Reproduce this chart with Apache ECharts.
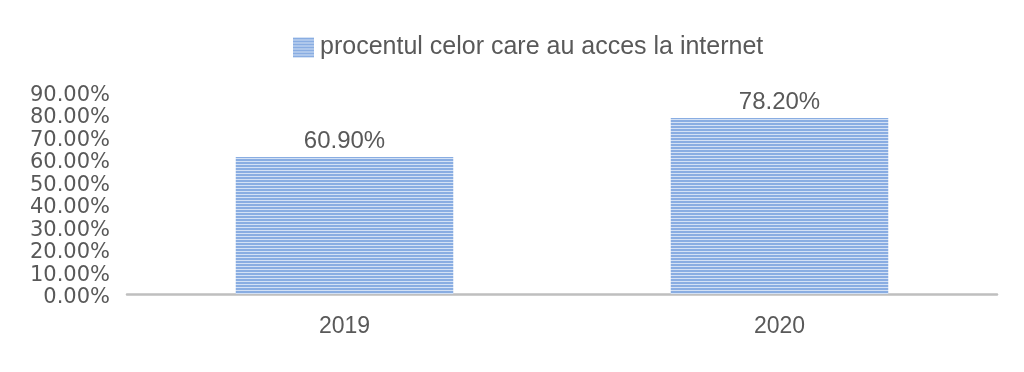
<!DOCTYPE html>
<html>
<head>
<meta charset="utf-8">
<script src="https://cdn.jsdelivr.net/npm/echarts@6/dist/echarts.min.js"></script>
<style>
html,body{margin:0;padding:0;background:#fff;}
#c{width:1024px;height:372px;}
</style>
</head>
<body>
<div id="c"></div>
<script>
const categories = ['2019', '2020'];
const seriesName = 'procentul celor care au acces la internet';
const values = [0.609, 0.782];
const yTicks = [0, 0.1, 0.2, 0.3, 0.4, 0.5, 0.6, 0.7, 0.8, 0.9];

function stripePattern() {
  const cv = document.createElement('canvas');
  cv.width = 4; cv.height = 3;
  const ctx = cv.getContext('2d');
  ctx.fillStyle = '#89ADE2';
  ctx.fillRect(0, 0, 4, 2);
  ctx.fillStyle = '#D3E1F5';
  ctx.fillRect(0, 2, 4, 1);
  return { image: cv, repeat: 'repeat' };
}
const pattern = stripePattern();
const font = 'Liberation Sans';
const pct = v => (v * 100).toFixed(2) + '%';

const chart = echarts.init(document.getElementById('c'), null, { renderer: 'canvas' });
chart.setOption({
  animation: false,
  backgroundColor: '#fff',
  legend: {
    top: 30,
    left: 288,
    icon: 'rect',
    itemWidth: 21,
    itemHeight: 20,
    itemGap: 10,
    textStyle: { fontFamily: font, fontSize: 25, color: '#595959', padding: [0, 0, 0, 1] },
    data: [seriesName]
  },
  grid: { left: 127, right: 27, top: 91.5, bottom: 78, containLabel: false },
  xAxis: {
    type: 'category',
    data: categories,
    axisLine: { show: true, lineStyle: { color: '#BFBFBF', width: 2.5 } },
    axisTick: { show: false },
    axisLabel: { fontFamily: font, fontSize: 23, color: '#595959', margin: 21 }
  },
  yAxis: {
    type: 'value',
    min: yTicks[0],
    max: yTicks[yTicks.length - 1],
    interval: 0.1,
    axisLine: { show: false },
    axisTick: { show: false },
    splitLine: { show: false },
    axisLabel: {
      fontFamily: 'DejaVu Sans', fontSize: 21, color: '#595959', margin: 17,
      showMinLabel: true, showMaxLabel: true, hideOverlap: false,
      verticalAlign: 'top', lineHeight: 8,
      formatter: v => pct(v)
    }
  },
  series: [{
    name: seriesName,
    type: 'bar',
    data: values,
    barWidth: '50%',
    itemStyle: { color: pattern },
    label: {
      show: true, position: 'top', distance: 4,
      fontFamily: font, fontSize: 24, color: '#595959',
      formatter: p => pct(p.value)
    }
  }]
});
</script>
</body>
</html>
